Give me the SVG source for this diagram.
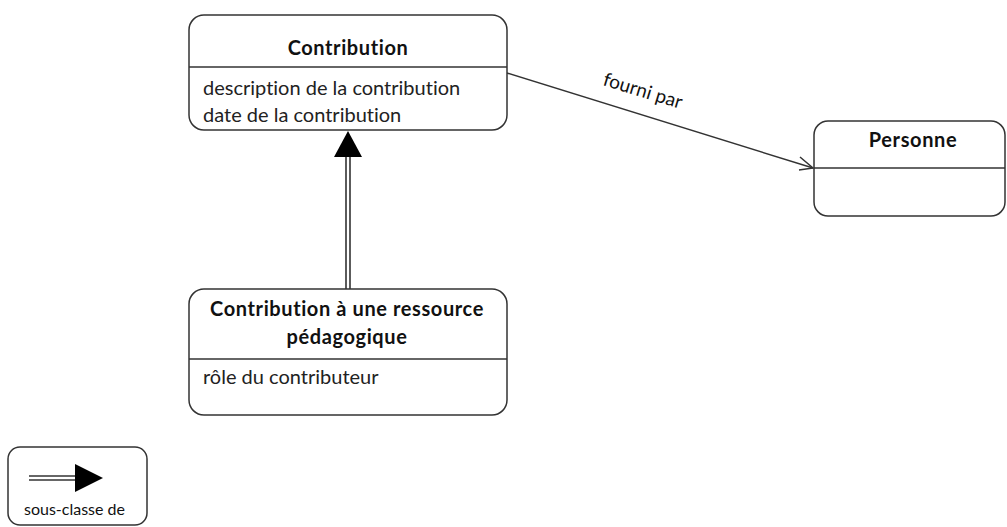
<svg xmlns="http://www.w3.org/2000/svg" width="1007" height="527" viewBox="0 0 1007 527">
<style>
.box{fill:#fff;stroke:#333;stroke-width:1.5}
.div{stroke:#333;stroke-width:1.5}
.t{font-family:Lato,"Open Sans",sans-serif;fill:#111;font-variant-ligatures:none}
.title{font-weight:bold;font-size:20px;text-anchor:middle;letter-spacing:0.6px}
.attr{font-size:20px;fill:#222}
.conn{stroke:#333;stroke-width:1.5;fill:none}
</style>
<rect width="1007" height="527" fill="#fff"/>
<g id="connectors">
  <line class="conn" x1="507" y1="73" x2="813" y2="168"/>
  <polyline class="conn" points="800,157 813,168 799,170"/>
  <text class="t" font-size="19" fill="#222" transform="translate(602,85) rotate(17)">fourni par</text>
  <line x1="346" y1="156" x2="346" y2="289" stroke="#333" stroke-width="1.6"/>
  <line x1="350" y1="156" x2="350" y2="289" stroke="#333" stroke-width="1.6"/>
  <polygon points="348,131 334,157 362,157" fill="#000"/>
</g>
<g id="contribution">
  <rect class="box" x="189" y="15" width="318" height="115" rx="15"/>
  <line class="div" x1="189" y1="67" x2="507" y2="67"/>
  <text class="t title" x="348" y="55">Contribution</text>
  <text class="t attr" x="203" y="95">description de la contribution</text>
  <text class="t attr" x="203" y="122">date de la contribution</text>
</g>
<g id="contribution-ressource">
  <rect class="box" x="189" y="289" width="318" height="126" rx="15"/>
  <line class="div" x1="189" y1="359" x2="507" y2="359"/>
  <text class="t title" x="347" y="316">Contribution à une ressource</text>
  <text class="t title" x="347" y="344">pédagogique</text>
  <text class="t attr" x="203" y="384">rôle du contributeur</text>
</g>
<g id="personne">
  <rect class="box" x="814" y="121" width="191" height="95" rx="14"/>
  <line class="div" x1="814" y1="168" x2="1005" y2="168"/>
  <text class="t title" x="913" y="147" letter-spacing="0.8">Personne</text>
</g>
<g id="legend">
  <rect class="box" x="8" y="447" width="139" height="78" rx="12"/>
  <line x1="29" y1="476" x2="78" y2="476" stroke="#333" stroke-width="1.6"/>
  <line x1="29" y1="480" x2="78" y2="480" stroke="#333" stroke-width="1.6"/>
  <polygon points="75,464 75,492 103,478" fill="#000"/>
  <text class="t" font-size="16" fill="#222" x="24" y="515">sous-classe de</text>
</g>
</svg>
